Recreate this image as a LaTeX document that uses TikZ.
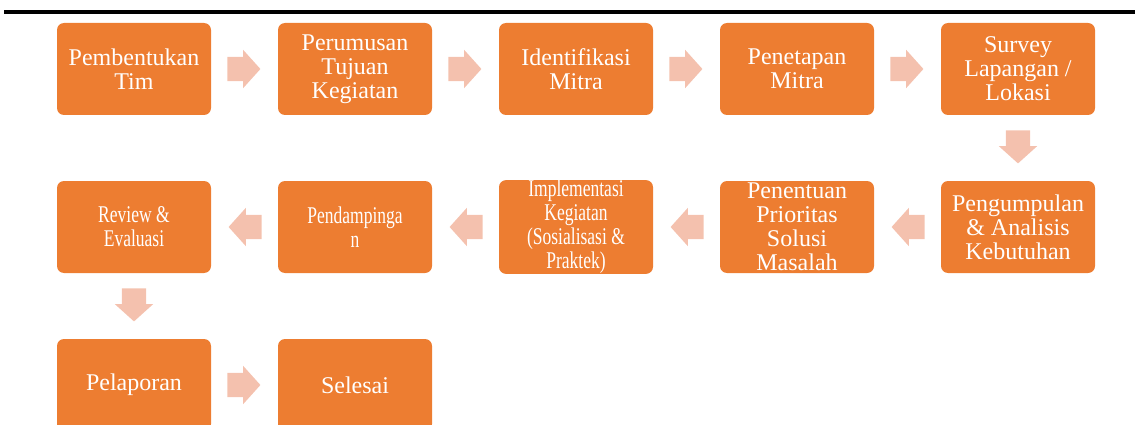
\documentclass[tikz,border=0pt]{standalone}
\usepackage{fontspec}
\setmainfont{Liberation Serif}
\newfontfamily\sempitfont[FakeStretch=0.73]{Liberation Serif}
\usetikzlibrary{shapes.arrows,calc}
\definecolor{oranye}{HTML}{ED7D31}
\definecolor{salem}{HTML}{F4C1AE}
\tikzset{
kotak/.style={rectangle,rounded corners=7pt,fill=oranye,text=white,minimum width=154pt,minimum height=92pt,align=center,inner sep=2pt,font=\fontsize{24}{24}\selectfont},
sempit/.style={font=\sempitfont\fontsize{24}{24}\selectfont,inner ysep=0pt},
panah/.style={single arrow,fill=salem,anchor=tail,minimum height=33pt,minimum width=38pt,single arrow head extend=7pt,single arrow tip angle=96,inner xsep=0pt,inner ysep=12pt}
}
\begin{document}
\begin{tikzpicture}[x=1pt,y=-1pt]

\useasboundingbox (0,0) rectangle (1135,425);
\draw[line width=4pt] (4,12)--(1135,12);

\node[kotak] (1) at (134,69) {Pembentukan\\Tim};

\node[kotak] (2) at (355,69) {Perumusan\\Tujuan\\Kegiatan};

\node[kotak] (3) at (576,69) {Identifikasi\\Mitra};

\node[kotak] (4) at (797,69) {Penetapan\\Mitra};

\node[kotak] (5) at (1018,69) {Survey\\Lapangan /\\Lokasi};

\node[kotak] (6) at (1018,227) {Pengumpulan\\\& Analisis\\Kebutuhan};

\node[kotak] (7) at (797,227) {Penentuan\\Prioritas\\Solusi\\Masalah};

\node[kotak,sempit] (8) at (576,227) {Implementasi\\Kegiatan\\(Sosialisasi \&\\Praktek)};

\node[kotak,sempit] (9) at (355,227) {Pendampinga\\n};

\node[kotak,sempit] (10) at (134,227) {Review \&\\Evaluasi};

\node[kotak] (11) at (134,385) {Pelaporan};

\node[kotak] (12) at (355,385) {Selesai};

\node[panah] (a1) at ($(1.east)!16pt!(2.west)$) {};
\node[panah] (a2) at ($(2.east)!16pt!(3.west)$) {};
\node[panah] (a3) at ($(3.east)!16pt!(4.west)$) {};
\node[panah] (a4) at ($(4.east)!16pt!(5.west)$) {};
\node[panah,rotate=-90] (a5) at ($(5.south)!15pt!(6.north)$) {};
\node[panah,rotate=180] (a6) at ($(6.west)!16pt!(7.east)$) {};
\node[panah,rotate=180] (a7) at ($(7.west)!16pt!(8.east)$) {};
\node[panah,rotate=180] (a8) at ($(8.west)!16pt!(9.east)$) {};
\node[panah,rotate=180] (a9) at ($(9.west)!16pt!(10.east)$) {};
\node[panah,rotate=-90] (a10) at ($(10.south)!15pt!(11.north)$) {};
\node[panah] (a11) at ($(11.east)!16pt!(12.west)$) {};

\end{tikzpicture}
\end{document}
